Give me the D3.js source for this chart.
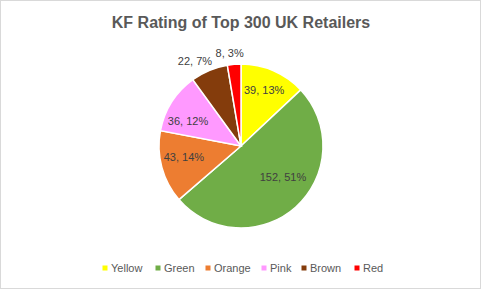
<!DOCTYPE html>
<html><head><meta charset="utf-8">
<script src="https://cdn.jsdelivr.net/npm/d3@7"></script>
<style>html,body{margin:0;padding:0;background:#fff}svg{display:block}</style>
</head><body>
<script>
const categories = ["Yellow","Green","Orange","Pink","Brown","Red"];
const values = [39,152,43,36,22,8];
const percents = ["13%","51%","14%","12%","7%","3%"];
const colors = ["#FFFF00","#70AD47","#ED7D31","#FF99FF","#843C0C","#FF0000"];
const labelRadius = [0.74,0.635,0.71,0.715,1.18,1.14];
const labelShift = [-1,-11.6,4,-7,-5.6,-2.2];
const title = "KF Rating of Top 300 UK Retailers";

const W=481,H=289;
const svg=d3.select("body").append("svg").attr("width",W).attr("height",H);
svg.append("rect").attr("x",0.5).attr("y",0.5).attr("width",W-1).attr("height",H-1).attr("fill","#fff").attr("stroke","#D9D9D9");

svg.append("text").attr("x",241).attr("y",28).attr("text-anchor","middle")
 .attr("font-family","Liberation Sans, Arial, sans-serif").attr("font-weight","bold")
 .attr("font-size",16).attr("fill","#595959").text(title);

const cx=241,cy=146,r=82;
const pie=d3.pie().sort(null).value(d=>d)(values);
const arc=d3.arc().innerRadius(0).outerRadius(r);
const g=svg.append("g").attr("transform",`translate(${cx},${cy})`);
g.selectAll("path").data(pie).join("path").attr("d",arc)
 .attr("fill",(d,i)=>colors[i]).attr("stroke","#fff").attr("stroke-width",1.5);

g.selectAll("text.lbl").data(pie).join("text").attr("class","lbl")
 .attr("transform",(d,i)=>{const a=(d.startAngle+d.endAngle)/2+labelShift[i]*Math.PI/180,rr=r*labelRadius[i];return `translate(${rr*Math.sin(a)},${-rr*Math.cos(a)})`;})
 .attr("text-anchor","middle").attr("dy","0.35em")
 .attr("font-family","Liberation Sans, Arial, sans-serif").attr("font-size",11).attr("fill","#404040")
 .text((d,i)=>`${values[i]}, ${percents[i]}`);

const legendX=[105,158,208,264,304,357];
const lg=svg.append("g");
categories.forEach((c,i)=>{
  lg.append("rect").attr("x",legendX[i]-2.5).attr("y",265.5).attr("width",5).attr("height",5).attr("fill",colors[i]);
  lg.append("text").attr("x",legendX[i]+6).attr("y",272).attr("font-family","Liberation Sans, Arial, sans-serif")
   .attr("font-size",11).attr("fill","#595959").text(c);
});
</script>
</body></html>
